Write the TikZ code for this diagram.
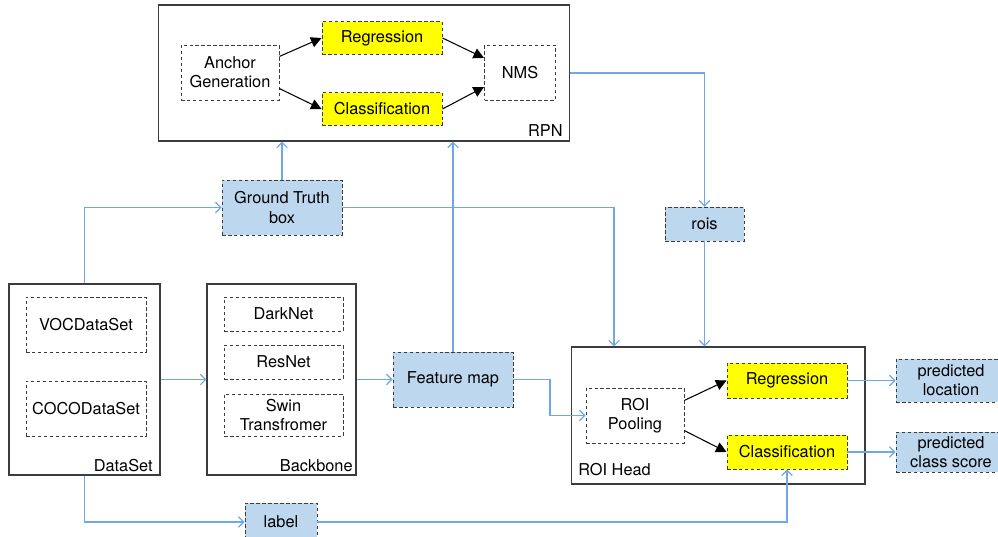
\documentclass[tikz,border=0pt]{standalone}
\usepackage{fontspec}
\setmainfont{TeX Gyre Heros}
\usepackage{xcolor}
\usetikzlibrary{arrows.meta, calc, positioning}

\definecolor{boxblue}{RGB}{189,215,238}
\definecolor{hlyellow}{RGB}{255,255,0}
\definecolor{flowblue}{RGB}{111,168,228}
\definecolor{edgegray}{RGB}{60,60,60}

\tikzset{
  frame/.style={draw=edgegray, line width=0.6pt, inner sep=0pt},
  dbox/.style={draw=edgegray, line width=0.55pt, dash pattern=on 2pt off 1.4pt, align=center, inner sep=0pt, font=\fontsize{9.3}{11}\selectfont},
  ybox/.style={dbox, fill=hlyellow},
  bbox/.style={dbox, fill=boxblue},
  tag/.style={inner sep=0pt, font=\fontsize{9.3}{11}\selectfont},
  flow/.style={draw=flowblue, line width=0.7pt, -{Straight Barb[length=3pt, width=6pt]}},
  blk/.style={draw=black, line width=0.6pt, -{Triangle[length=6pt, width=6pt]}}
}

\begin{document}
\begin{tikzpicture}[x=0.02cm, y=-0.02cm]
\useasboundingbox (0,0) rectangle (998,537);

% RPN
\node[frame, minimum width=8.24cm, minimum height=2.72cm] (rpn) at (364,73) {};
\node[tag, anchor=south east] at (563,137) {RPN};
\node[dbox, minimum width=1.96cm, minimum height=1.1cm] (anchor) at (230,72.5) {Anchor\\Generation};
\node[ybox, minimum width=2.4cm, minimum height=0.66cm] (regA) at (382,38) {Regression};
\node[ybox, minimum width=2.4cm, minimum height=0.66cm] (clsA) at (382,109) {Classification};
\node[dbox, minimum width=1.42cm, minimum height=1.1cm] (nms) at (520,72.5) {NMS};
\draw[blk] (anchor.18) -- (regA.west);
\draw[blk] (anchor.-18) -- (clsA.west);
\draw[blk] (regA.east) -- (nms.158);
\draw[blk] (clsA.east) -- (nms.202);

% Ground truth and rois
\node[bbox, minimum width=2.4cm, minimum height=1.1cm] (gt) at (282,207.5) {Ground Truth\\box};
\node[bbox, minimum width=1.58cm, minimum height=0.68cm] (rois) at (704.5,224) {rois};

% DataSet
\node[frame, minimum width=3.02cm, minimum height=3.82cm] (dataset) at (84.5,379.5) {};
\node[tag, anchor=south east] at (153,472) {DataSet};
\node[dbox, minimum width=2.4cm, minimum height=1.1cm] (voc) at (86,324.5) {VOCDataSet};
\node[dbox, minimum width=2.4cm, minimum height=1.1cm] (coco) at (86,408.5) {COCODataSet};

% Backbone
\node[frame, minimum width=2.98cm, minimum height=3.82cm] (backbone) at (281.5,379.5) {};
\node[tag, anchor=south east] at (353,472) {Backbone};
\node[dbox, minimum width=2.38cm, minimum height=0.68cm] (darknet) at (283.5,314) {DarkNet};
\node[dbox, minimum width=2.38cm, minimum height=0.68cm] (resnet) at (283.5,362) {ResNet};
\node[dbox, minimum width=2.38cm, minimum height=0.84cm] (swin) at (283.5,415) {Swin\\Transfromer};

% Feature map and label
\node[bbox, minimum width=2.4cm, minimum height=1.1cm] (fmap) at (453,379.5) {Feature map};
\node[bbox, minimum width=1.44cm, minimum height=0.76cm] (label) at (281,522) {label};

% ROI Head
\node[frame, minimum width=5.88cm, minimum height=2.74cm] (roihead) at (718,415.5) {};
\node[tag, anchor=south west] at (578,476) {ROI Head};
\node[dbox, minimum width=1.96cm, minimum height=1.1cm] (pool) at (635,415.5) {ROI\\Pooling};
\node[ybox, minimum width=2.4cm, minimum height=0.7cm] (regB) at (787,380.5) {Regression};
\node[ybox, minimum width=2.4cm, minimum height=0.68cm] (clsB) at (787,452) {Classification};
\draw[blk] (pool.17) -- (regB.west);
\draw[blk] (pool.-17) -- (clsB.west);

% Outputs
\node[bbox, minimum width=2.2cm, minimum height=0.86cm] (ploc) at (951,380.5) {predicted\\location};
\node[bbox, minimum width=2.2cm, minimum height=0.8cm] (pcls) at (951,452) {predicted\\class score};

% Blue connectors
\coordinate (gtdrop) at (614,0);
\coordinate (fmjog) at (550,0);
\draw[flow] (dataset.north) |- (gt.west);
\draw[flow] (gt.north) -- (gt.north |- rpn.south);
\draw[flow] (fmap.north) -- (fmap.north |- rpn.south);
\draw[flow] (rpn.east) -| (rois.north);
\draw[flow] (rois.south) -- (rois.south |- roihead.north);
\draw[flow] (gt.east) -| (gtdrop |- roihead.north);
\draw[flow] (dataset.east) -- (backbone.west);
\draw[flow] (backbone.east) -- (fmap.west);
\draw[flow] (fmap.east) -| (fmjog |- pool.west) -- (pool.west);
\draw[flow] (dataset.south) |- (label.west);
\draw[flow] (label.east) -| (clsB.south);
\draw[flow] (regB.east) -- (ploc.west);
\draw[flow] (clsB.east) -- (pcls.west);

\end{tikzpicture}
\end{document}
